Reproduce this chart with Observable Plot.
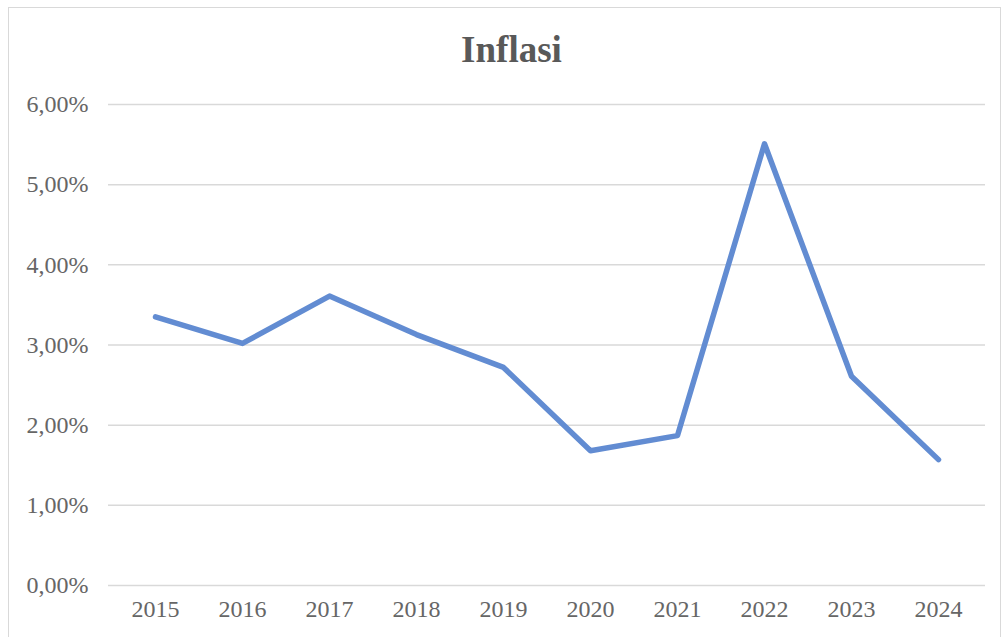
<!DOCTYPE html>
<html><head><meta charset="utf-8">
<script src="https://cdn.jsdelivr.net/npm/d3@7"></script>
<script src="https://cdn.jsdelivr.net/npm/@observablehq/plot@0.6"></script>
<style>
html,body{margin:0;padding:0;background:#fff;}
#frame{position:absolute;left:8px;top:7px;width:993px;height:640px;border:1.5px solid #d9d9d9;box-sizing:border-box;}
#wrap{position:absolute;left:0;top:0;width:1005px;}
#title{height:80px;line-height:100px;text-align:center;font-family:"Liberation Serif","Times New Roman",serif;font-weight:bold;font-size:37px;color:#595959;padding-left:18px;box-sizing:border-box;}
</style></head>
<body>
<div id="frame"></div>
<div id="wrap"><div id="title">Inflasi</div><div id="chart"></div></div>
<script>
const years = ["2015","2016","2017","2018","2019","2020","2021","2022","2023","2024"];
const inflation = [3.35, 3.02, 3.61, 3.13, 2.72, 1.68, 1.87, 5.51, 2.61, 1.57];
const yTicks = [0, 1, 2, 3, 4, 5, 6];

const data = years.map((y, i) => ({year: y, value: inflation[i]}));
const fmt = v => v.toFixed(2).replace(".", ",") + "%";

const chart = Plot.plot({
  width: 1005,
  height: 557,
  marginLeft: 108,
  marginRight: 20,
  marginTop: 24,
  marginBottom: 52,
  style: {fontFamily: "'Liberation Serif','Times New Roman',serif", fontSize: "24px", color: "#666666", background: "transparent"},
  x: {type: "point", domain: years, padding: 0.5, label: null, tickSize: 0, tickPadding: 14},
  y: {domain: [0, 6], ticks: yTicks, tickFormat: fmt, label: null, tickSize: 0, tickPadding: 20},
  marks: [
    Plot.gridY(yTicks, {stroke: "#d9d9d9", strokeOpacity: 1, strokeWidth: 1.5}),
    Plot.axisX({tickSize: 0, tickPadding: 14, fill: "#666666", fontSize: 24}),
    Plot.axisY({ticks: yTicks, tickFormat: fmt, tickSize: 0, tickPadding: 20, fill: "#666666", fontSize: 24}),
    Plot.lineY(data, {x: "year", y: "value", stroke: "#628cd2", strokeWidth: 5.5, strokeLinejoin: "round", strokeLinecap: "round"})
  ]
});
document.getElementById("chart").appendChild(chart);
</script>
</body></html>
